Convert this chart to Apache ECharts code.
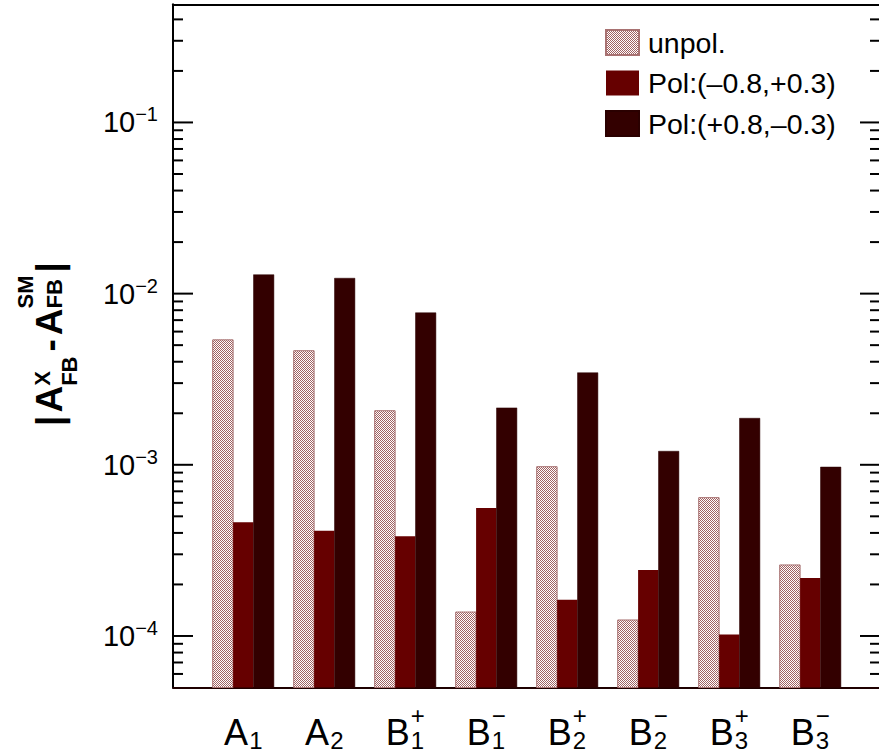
<!DOCTYPE html>
<html><head><meta charset="utf-8">
<script src="https://cdn.jsdelivr.net/npm/echarts@6/dist/echarts.min.js"></script>
<style>html,body{margin:0;padding:0;background:#fff}#c{width:879px;height:754px}</style>
</head><body><div id="c"></div>
<script>
// ---------------- data ----------------
const categories = ['A1', 'A2', 'B1+', 'B1-', 'B2+', 'B2-', 'B3+', 'B3-'];
const labelBase = ['A', 'A', 'B', 'B', 'B', 'B', 'B', 'B'];
const labelSup  = ['', '', '+', '−', '+', '−', '+', '−'];
const labelSub  = ['1', '2', '1', '1', '2', '2', '3', '3'];
const seriesNames = ['unpol.', 'Pol:(–0.8,+0.3)', 'Pol:(+0.8,–0.3)'];
const unpol = [5.37e-3, 4.64e-3, 2.07e-3, 1.38e-4, 9.75e-4, 1.24e-4, 6.43e-4, 2.60e-4];
const polMP = [4.61e-4, 4.12e-4, 3.82e-4, 5.60e-4, 1.63e-4, 2.43e-4, 1.02e-4, 2.18e-4];
const polPM = [1.29e-2, 1.23e-2, 7.73e-3, 2.15e-3, 3.45e-3, 1.20e-3, 1.87e-3, 9.70e-4];
const yMajorTicks = [1e-4, 1e-3, 1e-2, 1e-1];
const yMin = 5e-5, yMax = 0.49;

// ---------------- styles ----------------
const FONT = '"Liberation Sans", Arial, Helvetica, sans-serif';
const gridTop = 4.3, gridBottom = 66.5;
const BAR_W = 20.4;

function makePattern() {
  const c = document.createElement('canvas');
  c.width = 4; c.height = 4;
  const g = c.getContext('2d');
  g.fillStyle = '#ffffff'; g.fillRect(0, 0, 4, 4);
  g.fillStyle = '#a06262';
  const rows = [[1,0,1,0],[0,1,0,1],[1,0,1,0],[0,1,0,1]];
  for (let y = 0; y < 4; y++) for (let x = 0; x < 4; x++) if (rows[y][x]) g.fillRect(x, y, 1, 1);
  return c;
}
const pattern = makePattern();

const chart = echarts.init(document.getElementById('c'), null, {renderer: 'svg', width: 879, height: 754});

const hiddenAxis = {axisLine: {show: false}, axisTick: {show: false}, axisLabel: {show: false}, splitLine: {show: false}};

const seriesStyles = [
  {color: {image: pattern, repeat: 'repeat'}, borderColor: '#a87272', borderWidth: 1},
  {color: '#660000', borderColor: '#660000', borderWidth: 0},
  {color: '#330000', borderColor: '#2a0000', borderWidth: 0.5}
];
const seriesData = [unpol, polMP, polPM];

function barSeries(k) {
  return {
    name: seriesNames[k], type: 'custom', xAxisIndex: 2, yAxisIndex: 2,
    itemStyle: seriesStyles[k],
    encode: {x: 0, y: 1},
    data: seriesData[k].map((v, i) => [i, v]),
    renderItem: function (params, api) {
      const i = api.value(0), v = api.value(1);
      const top = api.coord([i, v]);
      const bottom = api.coord([i, yMin]);
      const cx = top[0] + (k - 1) * BAR_W;
      const st = seriesStyles[k];
      return {
        type: 'rect',
        shape: {x: cx - BAR_W / 2, y: top[1], width: BAR_W, height: bottom[1] - top[1]},
        style: {fill: st.color, stroke: st.borderWidth ? st.borderColor : null, lineWidth: st.borderWidth}
      };
    }
  };
}

const option = {
  animation: false,
  backgroundColor: '#fff',
  grid: [
    {left: 173, top: gridTop, width: 707, bottom: gridBottom, show: false},
    {left: 202.8, top: gridTop, width: 648, bottom: gridBottom, show: false}
  ],
  xAxis: [
    {gridIndex: 0, type: 'value', min: 0, max: 1, position: 'bottom',
     axisLine: {show: true, onZero: false, lineStyle: {color: '#1e0000', width: 2}},
     axisTick: {show: false}, axisLabel: {show: false}, splitLine: {show: false}},
    {gridIndex: 0, type: 'value', min: 0, max: 1, position: 'top',
     axisLine: {show: true, onZero: false, lineStyle: {color: '#000', width: 2}},
     axisTick: {show: false}, axisLabel: {show: false}, splitLine: {show: false}},
    Object.assign({gridIndex: 1, type: 'category', data: categories, boundaryGap: true}, hiddenAxis)
  ],
  yAxis: [
    {gridIndex: 0, type: 'log', logBase: 10, min: yMin, max: yMax, position: 'left',
     axisLine: {show: true, lineStyle: {color: '#000', width: 2}},
     axisTick: {show: false}, minorTick: {show: false}, splitLine: {show: false},
     axisLabel: {
       show: true, margin: 15,
       formatter: function (v) {
         const l = Math.log10(v), e = Math.round(l);
         if (Math.abs(l - e) > 1e-6) return '';
         return '{b|10}{s|−' + (-e) + '}';
       },
       rich: {
         b: {fontFamily: FONT, fontSize: 29, color: '#000', lineHeight: 36, verticalAlign: 'middle'},
         s: {fontFamily: FONT, fontSize: 20, color: '#000', lineHeight: 22, verticalAlign: 'top'}
       }
     }},
    Object.assign({gridIndex: 0, type: 'log', logBase: 10, min: yMin, max: yMax, position: 'right'}, hiddenAxis),
    Object.assign({gridIndex: 1, type: 'log', logBase: 10, min: yMin, max: yMax}, hiddenAxis)
  ],
  legend: {
    orient: 'vertical', left: 605, top: 28, padding: 0, itemWidth: 33, itemHeight: 25, itemGap: 11.5,
    icon: 'rect', selectedMode: false,
    textStyle: {fontFamily: FONT, fontSize: 28.5, color: '#000', lineHeight: 25, padding: [0, 0, 0, 4]},
    data: seriesNames
  },
  series: [barSeries(0), barSeries(1), barSeries(2)]
};
chart.setOption(option);

// ---------------- ticks, x labels and y title (positioned through the axes) ----------------
const mctx = document.createElement('canvas').getContext('2d');
function tw(text, font) { mctx.font = font; return mctx.measureText(text).width; }

const gfx = [];
const leftX = 173, rightX = 880;
function tick(v, len) {
  const y = chart.convertToPixel({yAxisIndex: 0}, v);
  gfx.push({type: 'line', silent: true, shape: {x1: leftX, y1: y, x2: leftX + len, y2: y}, style: {stroke: '#000', lineWidth: 2}});
  gfx.push({type: 'line', silent: true, shape: {x1: rightX - len, y1: y, x2: rightX, y2: y}, style: {stroke: '#000', lineWidth: 2}});
}
yMajorTicks.forEach(v => tick(v, 20));
for (let k = -5; k <= -1; k++) {
  for (let m = 2; m <= 9; m++) {
    const v = m * Math.pow(10, k);
    if (v <= yMin * 1.0001 || v >= yMax) continue;
    tick(v, 10);
  }
}

// x labels
const baseFont = 36, smallFont = 24;
const baseY = 745;
categories.forEach((c, i) => {
  const cx = chart.convertToPixel({xAxisIndex: 2}, c);
  const fb = baseFont + 'px ' + FONT, fs = smallFont + 'px ' + FONT;
  const wb = tw(labelBase[i], fb);
  const ws = Math.max(tw(labelSub[i], fs), labelSup[i] ? tw(labelSup[i], fs) : 0);
  const total = wb + 1 + ws;
  const x0 = cx - total / 2;
  gfx.push({type: 'text', silent: true, style: {text: labelBase[i], x: x0, y: baseY - 0.35 * baseFont, font: fb, fill: '#000', textAlign: 'left', verticalAlign: 'middle'}});
  gfx.push({type: 'text', silent: true, style: {text: labelSub[i], x: x0 + wb + 1, y: 740.5, font: fs, fill: '#000', textAlign: 'left', verticalAlign: 'middle'}});
  if (labelSup[i]) {
    gfx.push({type: 'text', silent: true, style: {text: labelSup[i], x: x0 + wb + 1, y: 715, font: fs, fill: '#000', textAlign: 'left', verticalAlign: 'middle'}});
  }
});

// y title |A^X_FB - A^SM_FB|
(function () {
  const B = 'bold 37px ' + FONT, S = 'bold 22px ' + FONT;
  const parts = [];
  let x = 0;
  function big(t, gapAfter) { parts.push({t, x, y: -0.35 * 37, f: B}); x += tw(t, B) + (gapAfter || 0); }
  function script(sup, supY, sub, subY, gapAfter) {
    parts.push({t: sup, x, y: supY - 0.35 * 22, f: S});
    parts.push({t: sub, x, y: subY - 0.35 * 22, f: S});
    x += Math.max(tw(sup, S), tw(sub, S)) + (gapAfter || 0);
  }
  big('|', 3); big('A', 0);
  script('X', -12, 'FB', 15, 5);
  big('-', 4); big('A', 0);
  script('SM', -29, 'FB', 0, 3);
  big('|', 0);
  const total = x;
  const children = parts.map(p => ({type: 'text', silent: true, style: {text: p.t, x: p.x, y: p.y, font: p.f, fill: '#000', textAlign: 'left', verticalAlign: 'middle'}}));
  gfx.push({type: 'group', x: 62, y: 344 + total / 2, rotation: Math.PI / 2, children});
})();

chart.setOption({graphic: gfx});
</script>
</body></html>
